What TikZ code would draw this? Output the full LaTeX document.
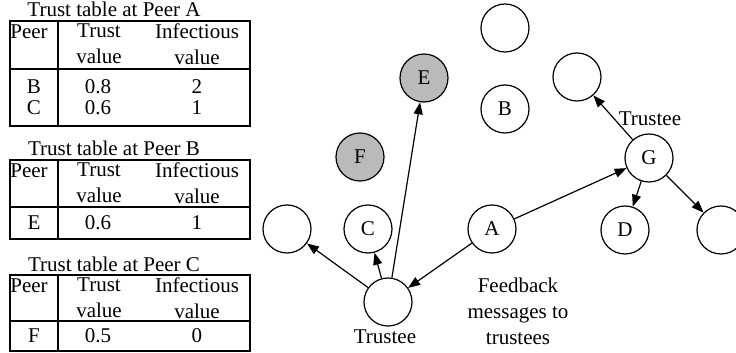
\documentclass[tikz,border=0pt]{standalone}
\usepackage{fontspec}
\setmainfont{Liberation Serif}
\usetikzlibrary{arrows.meta}

\tikzset{
  peer/.style={draw, circle, minimum size=24pt, inner sep=0pt, line width=0.6pt},
  infected/.style={peer, fill=black!27},
  link/.style={-{Triangle[length=6pt,width=4.5pt]}, line width=0.6pt},
  frame/.style={line width=0.6pt}
}

\begin{document}
\begin{tikzpicture}[x=0.5pt, y=-0.5pt, font=\fontsize{10.5}{13}\selectfont]
        \useasboundingbox (0,0) rectangle (736,353);

        % Trust table at Peer A
        \node (titleA) at (114,9) {Trust table at Peer A};
        \draw[frame] (10,21) rectangle (250,126);
        \draw[frame] (10,69) -- (250,69);
        \draw[frame] (58,21) -- (58,126);
        \node (peerA) at (29,32) {Peer};
        \node[align=center] (trustA) at (99,44) {Trust\\value};
        \node[align=center] (infA) at (197,44) {Infectious\\value};
        \node (rowA1) at (34,87) {B};
        \node (valA1) at (98,87) {0.8};
        \node (infA1) at (197,87) {2};
        \node (rowA2) at (34,108) {C};
        \node (valA2) at (98,108) {0.6};
        \node (infA2) at (197,108) {1};

        % Trust table at Peer B
        \node (titleB) at (114,148) {Trust table at Peer B};
        \draw[frame] (10,160) rectangle (250,239);
        \draw[frame] (10,207) -- (250,207);
        \draw[frame] (58,160) -- (58,239);
        \node (peerB) at (29,171) {Peer};
        \node[align=center] (trustB) at (99,183) {Trust\\value};
        \node[align=center] (infB) at (197,183) {Infectious\\value};
        \node (rowB1) at (34,223) {E};
        \node (valB1) at (98,223) {0.6};
        \node (infB1) at (197,223) {1};

        % Trust table at Peer C
        \node (titleC) at (114,264) {Trust table at Peer C};
        \draw[frame] (10,275) rectangle (250,351);
        \draw[frame] (10,321) -- (250,321);
        \draw[frame] (58,275) -- (58,351);
        \node (peerC) at (29,286) {Peer};
        \node[align=center] (trustC) at (99,298) {Trust\\value};
        \node[align=center] (infC) at (197,298) {Infectious\\value};
        \node (rowC1) at (34,336) {F};
        \node (valC1) at (98,336) {0.5};
        \node (infC1) at (197,336) {0};

        % Draw the peers
        \node[peer] (n1) at (505,28) {};
        \node[infected] (e) at (424,78) {E};
        \node[peer] (b) at (505,109) {B};
        \node[infected] (f) at (360,157) {F};
        \node[peer] (n2) at (577,77) {};
        \node[peer] (g) at (649,158) {G};
        \node[peer] (n3) at (287,229) {};
        \node[peer] (c) at (368,229) {C};
        \node[peer] (a) at (492,229) {A};
        \node[peer] (d) at (625,230) {D};
        \node[peer] (n4) at (721,230) {};
        \node[peer] (t) at (388,302) {};

        % Labels
        \node (trusteeG) at (650,119) {Trustee};
        \node (trusteeT) at (385,337) {Trustee};
        \node[align=center] (feedback) at (518,311) {Feedback\\messages to\\trustees};

        % Draw the arrows
        \draw[link] (t) -- (n3);
        \draw[link] (t) -- (c);
        \draw[link] (t) -- (e);
        \draw[link] (a) -- (t);
        \draw[link] (a) -- (g);
        \draw[link] (g) -- (n2);
        \draw[link] (g) -- (d);
        \draw[link] (g) -- (n4);

    \end{tikzpicture}
\end{document}
